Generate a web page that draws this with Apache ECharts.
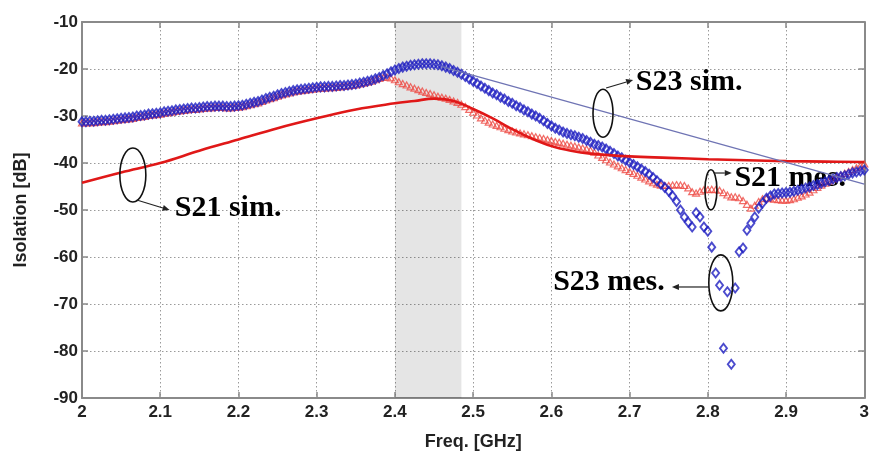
<!DOCTYPE html>
<html>
<head>
<meta charset="utf-8">
<script src="https://cdn.jsdelivr.net/npm/echarts@6/dist/echarts.min.js"></script>
<style>
html,body{margin:0;padding:0;background:#fff;}
#c{width:872px;height:456px;}
</style>
</head>
<body>
<div id="c"></div>
<script>
// ---------------- DATA ----------------
const FREQ_START = 2.0;   // GHz, measurement sweep start
const FREQ_STEP = 0.005;  // GHz, measurement sweep step

// S23 measured (blue diamonds), 2.000 ... 3.000 GHz
const s23Mes = [
 -31.2,-31.2,-31.1,-31.1,-31.0,-30.9,-30.9,-30.8,-30.7,-30.6,
 -30.5,-30.4,-30.3,-30.2,-30.0,-29.9,-29.8,-29.6,-29.5,-29.4,
 -29.3,-29.1,-29.0,-28.9,-28.7,-28.6,-28.5,-28.4,-28.3,-28.3,
 -28.2,-28.1,-28.0,-28.0,-27.9,-27.9,-27.9,-28.0,-28.0,-27.9,
 -27.8,-27.7,-27.5,-27.3,-27.1,-26.9,-26.6,-26.3,-26.0,-25.8,
 -25.5,-25.2,-25.0,-24.8,-24.6,-24.4,-24.3,-24.2,-24.1,-24.0,
 -23.9,-23.8,-23.8,-23.7,-23.7,-23.6,-23.5,-23.5,-23.4,-23.3,
 -23.2,-23.0,-22.8,-22.6,-22.4,-22.1,-21.8,-21.4,-21.0,-20.6,
 -20.2,-19.9,-19.6,-19.4,-19.2,-19.1,-19.0,-18.9,-18.9,-18.9,
 -19.0,-19.1,-19.3,-19.6,-19.9,-20.3,-20.7,-21.1,-21.6,-22.1,
 -22.6,-23.1,-23.6,-24.1,-24.6,-25.1,-25.5,-26.0,-26.4,-26.9,
 -27.3,-27.8,-28.2,-28.7,-29.1,-29.6,-30.0,-30.5,-31.0,-31.6,
 -32.1,-32.6,-33.0,-33.4,-33.7,-34.0,-34.2,-34.5,-34.8,-35.2,
 -35.6,-36.0,-36.3,-36.6,-37.0,-37.5,-38.0,-38.5,-38.9,-39.4,
 -39.9,-40.3,-40.8,-41.3,-41.8,-42.4,-43.1,-43.8,-44.5,-45.2,
 -46.0,-47.0,-48.2,-50.0,-51.5,-52.6,-53.6,-50.6,-51.5,-53.6,
 -54.5,-57.9,-63.4,-66.0,-79.4,-67.4,-82.8,-66.6,-58.9,-58.1,
 -54.3,-52.8,-51.5,-49.6,-48.5,-47.5,-47.0,-46.6,-46.5,-46.4,
 -46.3,-46.2,-46.0,-45.8,-45.6,-45.3,-45.1,-44.8,-44.6,-44.3,
 -44.0,-43.7,-43.4,-43.1,-42.9,-42.7,-42.4,-42.1,-41.9,-41.7,
 -41.5
];

// S21 measured (red triangles), 2.000 ... 3.000 GHz
const s21Mes = [
 -31.5,-31.5,-31.4,-31.4,-31.3,-31.2,-31.2,-31.1,-31.0,-30.9,
 -30.8,-30.7,-30.6,-30.5,-30.3,-30.2,-30.1,-29.9,-29.8,-29.7,
 -29.6,-29.4,-29.3,-29.2,-29.0,-28.9,-28.8,-28.7,-28.6,-28.6,
 -28.5,-28.4,-28.3,-28.3,-28.2,-28.2,-28.2,-28.3,-28.3,-28.2,
 -28.1,-28.0,-27.8,-27.6,-27.4,-27.2,-26.9,-26.6,-26.3,-26.1,
 -25.8,-25.5,-25.3,-25.1,-24.9,-24.7,-24.6,-24.5,-24.4,-24.3,
 -24.2,-24.1,-24.1,-24.0,-24.0,-23.9,-23.8,-23.7,-23.6,-23.5,
 -23.4,-23.2,-23.0,-22.8,-22.6,-22.3,-22.0,-21.8,-21.7,-21.9,
 -22.3,-22.7,-23.1,-23.4,-23.8,-24.1,-24.4,-24.7,-25.0,-25.2,
 -25.5,-25.8,-26.0,-26.2,-26.5,-26.8,-27.1,-27.5,-28.0,-28.6,
 -29.2,-29.8,-30.4,-30.9,-31.3,-31.7,-32.0,-32.3,-32.6,-32.9,
 -33.2,-33.4,-33.6,-33.8,-34.0,-34.2,-34.4,-34.6,-34.8,-35.0,
 -35.2,-35.4,-35.6,-35.8,-36.0,-36.2,-36.4,-36.6,-36.8,-37.0,
 -37.3,-37.7,-38.3,-38.8,-39.3,-39.8,-40.2,-40.6,-41.0,-41.4,
 -41.8,-42.2,-42.6,-43.0,-43.4,-43.8,-44.2,-44.5,-44.7,-44.8,
 -44.8,-44.7,-44.6,-44.7,-44.8,-45.3,-46.1,-46.4,-46.0,-45.7,
 -45.7,-45.6,-45.7,-45.8,-46.3,-46.8,-47.2,-47.2,-47.4,-48.0,
 -48.8,-49.6,-49.0,-48.2,-47.6,-47.5,-47.6,-47.7,-47.8,-47.9,
 -47.9,-47.8,-47.6,-47.3,-47.0,-46.6,-46.2,-45.7,-45.2,-44.7,
 -44.3,-43.8,-43.4,-43.0,-42.6,-42.2,-41.8,-41.4,-41.0,-40.6,
 -40.2
];

// S21 simulated (red solid line)
const s21SimFreq = [2.00,2.05,2.10,2.15,2.20,2.25,2.30,2.35,2.40,2.425,2.45,2.475,2.50,2.525,2.55,2.575,2.60,2.625,2.65,2.70,2.75,2.80,2.85,2.90,2.95,3.00];
const s21SimVal  = [-44.2,-42.0,-40.0,-37.4,-35.0,-32.6,-30.5,-28.6,-27.3,-26.8,-26.3,-26.8,-28.5,-30.5,-32.8,-34.8,-36.4,-37.4,-38.0,-38.6,-38.9,-39.2,-39.4,-39.6,-39.7,-39.8];

// S23 simulated (thin blue line)
const s23SimFreq = [2.46, 3.00];
const s23SimVal  = [-19.5, -44.5];

// shaded band (GHz)
const bandRange = [2.40, 2.485];

// axes
const xRange = [2, 3], xStep = 0.1;
const yRange = [-90, -10], yStep = 10;

// annotations (data coordinates)
const annoTexts = [
  {text:'S21 sim.', at:[2.1185,-49.6], align:'left'},
  {text:'S23 sim.', at:[2.708,-22.8], align:'left'},
  {text:'S21 mes.', at:[2.834,-43.2], align:'left'},
  {text:'S23 mes.', at:[2.745,-65.3], align:'right'}
];
const annoEllipses = [
  {at:[2.065,-42.55], r:[13,27]},
  {at:[2.666,-29.4], r:[10,24]},
  {at:[2.804,-45.7], r:[6,20]},
  {at:[2.8166,-65.5], r:[12,28]}
];
const annoArrows = [
  {from:[2.070,-47.87], to:[2.112,-50.0]},
  {from:[2.670,-24.04], to:[2.7045,-22.34]},
  {from:[2.8076,-42.13], to:[2.8306,-42.13]},
  {from:[2.8013,-66.38], to:[2.7541,-66.38]}
];

// ---------------- CHART ----------------
const pairs = (f0, step, vals) => vals.map((v,i)=>[+(f0+i*step).toFixed(4), v]);
const zip = (xs, ys) => xs.map((x,i)=>[x, ys[i]]);

const chart = echarts.init(document.getElementById('c'), null, {renderer:'canvas'});
const labelFont = {fontFamily:"'Liberation Sans', Arial, sans-serif", fontWeight:'bold', fontSize:17, color:'#222'};
const frameColor = '#8a8a8a';

const option = {
  animation:false,
  backgroundColor:'#fff',
  grid:{left:82, right:5, top:22, bottom:58, show:false},
  xAxis:[{
    type:'value', min:xRange[0], max:xRange[1], interval:xStep,
    name:'Freq. [GHz]', nameLocation:'middle', nameGap:35,
    nameTextStyle:Object.assign({}, labelFont, {fontSize:18}),
    axisLine:{show:true, onZero:false, lineStyle:{color:frameColor, width:2}},
    axisTick:{show:true, inside:true, length:6, lineStyle:{color:frameColor, width:1.5}},
    axisLabel:Object.assign({margin:6, formatter:v=>String(parseFloat(v.toFixed(2)))}, labelFont),
    splitLine:{show:true, lineStyle:{color:'#9a9a9a', width:1, type:[1.5,2.5]}}
  },{
    type:'value', position:'top', min:xRange[0], max:xRange[1], interval:xStep,
    axisLine:{show:true, onZero:false, lineStyle:{color:frameColor, width:2}},
    axisTick:{show:true, inside:true, length:6, lineStyle:{color:frameColor, width:1.5}},
    axisLabel:{show:false}, splitLine:{show:false}
  }],
  yAxis:[{
    type:'value', min:yRange[0], max:yRange[1], interval:yStep,
    name:'Isolation [dB]', nameLocation:'middle', nameGap:52, nameRotate:90,
    nameTextStyle:Object.assign({}, labelFont, {fontSize:18}),
    axisLine:{show:true, onZero:false, lineStyle:{color:frameColor, width:2}},
    axisTick:{show:true, inside:true, length:6, lineStyle:{color:frameColor, width:1.5}},
    axisLabel:Object.assign({margin:4}, labelFont),
    splitLine:{show:true, lineStyle:{color:'#9a9a9a', width:1, type:[1.5,2.5]}}
  },{
    type:'value', position:'right', min:yRange[0], max:yRange[1], interval:yStep,
    axisLine:{show:true, onZero:false, lineStyle:{color:frameColor, width:2}},
    axisTick:{show:true, inside:true, length:6, lineStyle:{color:frameColor, width:1.5}},
    axisLabel:{show:false}, splitLine:{show:false}
  }],
  series:[
    {
      name:'band', type:'line', data:[], silent:true,
      markArea:{silent:true, itemStyle:{color:'rgba(0,0,0,0.1)'}, data:[[{xAxis:bandRange[0]},{xAxis:bandRange[1]}]]}
    },
    {
      name:'S21 mes.', type:'scatter', data:pairs(FREQ_START, FREQ_STEP, s21Mes), z:3,
      symbol:'triangle', symbolSize:[7,6],
      itemStyle:{color:'rgba(255,255,255,0)', borderColor:'#ee4a44', borderWidth:1.2}
    },
    {
      name:'S23 mes.', type:'scatter', data:pairs(FREQ_START, FREQ_STEP, s23Mes), z:4,
      symbol:'diamond', symbolSize:[7,9],
      itemStyle:{color:'rgba(255,255,255,0)', borderColor:'#1e1ec0', borderWidth:1.9}
    },
    {
      name:'S21 sim.', type:'line', data:zip(s21SimFreq, s21SimVal), smooth:0.4, z:5,
      symbol:'none', lineStyle:{color:'#e01818', width:2.6}
    },
    {
      name:'S23 sim.', type:'line', data:zip(s23SimFreq, s23SimVal), z:5,
      symbol:'none', lineStyle:{color:'#6f74b4', width:1.2}
    }
  ]
};
chart.setOption(option);

// annotations as graphics, positioned through the chart's own coordinate system
function px(p){ return chart.convertToPixel({gridIndex:0}, p); }
const g = [];
annoEllipses.forEach(e=>{
  const c = px(e.at);
  g.push({type:'ellipse', shape:{cx:c[0], cy:c[1], rx:e.r[0], ry:e.r[1]},
    style:{fill:null, stroke:'#111', lineWidth:1.6}, z:100});
});
annoArrows.forEach(a=>{
  const p1 = px(a.from), p2 = px(a.to);
  const dx = p2[0]-p1[0], dy = p2[1]-p1[1], L = Math.hypot(dx,dy);
  const ux = dx/L, uy = dy/L, h = 7, w = 3;
  const bx = p2[0]-ux*h, by = p2[1]-uy*h;
  g.push({type:'line', shape:{x1:p1[0], y1:p1[1], x2:bx, y2:by}, style:{stroke:'#222', lineWidth:1.2}, z:100});
  g.push({type:'polygon', shape:{points:[[p2[0],p2[1]],[bx-uy*w,by+ux*w],[bx+uy*w,by-ux*w]]}, style:{fill:'#222'}, z:100});
});
annoTexts.forEach(t=>{
  const c = px(t.at);
  g.push({type:'text', x:c[0], y:c[1], z:1,
    style:{text:t.text, fill:'#000', font:"bold 30px 'Liberation Serif', 'Times New Roman', serif",
      textAlign:t.align, textVerticalAlign:'middle'}});
});
chart.setOption({graphic:g});
</script>
</body>
</html>
